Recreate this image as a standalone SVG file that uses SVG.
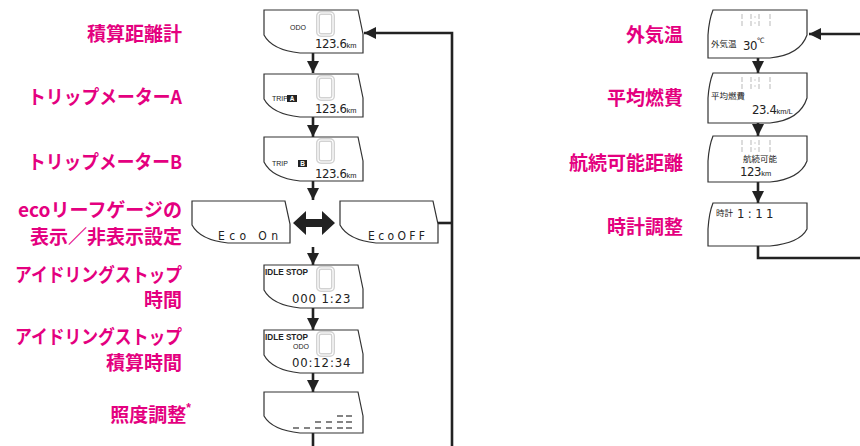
<svg xmlns="http://www.w3.org/2000/svg" width="860" height="446" viewBox="0 0 860 446">
<style>
.lbl{font-family:"Noto Sans CJK JP","Noto Sans",sans-serif;font-weight:bold;font-size:19px;fill:#e4007f;text-anchor:end}
.box{fill:#fff;stroke:#333;stroke-width:1.2}
.ghost{fill:none;stroke:#d2d2d2;stroke-width:4}
.ghost2{fill:none;stroke:#fff;stroke-width:1.2}
.gseg{stroke:#c9c9c9;stroke-width:1.3}
.dig{font-family:"DejaVu Sans Condensed","DejaVu Sans",sans-serif;font-weight:200;font-size:13px;letter-spacing:-0.4px;fill:#222}
.u{font-family:"Liberation Sans",Arial,sans-serif;font-size:7.5px;letter-spacing:0}
.sm{font-family:"Liberation Sans",Arial,sans-serif;font-size:7px;fill:#222}
.jp{font-family:"Noto Sans CJK JP",sans-serif;font-size:8.5px;fill:#222}
.bold{font-family:"Liberation Sans",Arial,sans-serif;font-weight:bold;font-size:9px;fill:#222}
.seg{font-family:"DejaVu Sans Condensed","DejaVu Sans",sans-serif;font-weight:200;font-size:12px;fill:#222}
.ln{fill:none;stroke:#222;stroke-width:2.6}
.bar{stroke:#333;stroke-width:1.2}
</style>
<defs>
<marker id="ah" markerUnits="userSpaceOnUse" markerWidth="13" markerHeight="12" refX="12" refY="6" orient="auto">
<path d="M0,0 L12,6 L0,12 Z" fill="#222"/>
</marker>
<g id="g0"><rect x="0" y="0" width="15" height="22" rx="3" class="ghost"/><rect x="0" y="0" width="15" height="22" rx="3" class="ghost2"/><line x1="2" y1="11" x2="13" y2="11" stroke="#fff" stroke-width="1.2"/></g>
<g id="g1"><line x1="0" y1="0" x2="0" y2="5" class="gseg"/><line x1="0" y1="7" x2="0" y2="12" class="gseg"/><line x1="9" y1="0" x2="9" y2="5" class="gseg"/><line x1="9" y1="7" x2="9" y2="12" class="gseg"/><circle cx="13" cy="3" r="0.8" fill="#c9c9c9"/><circle cx="13" cy="9" r="0.8" fill="#c9c9c9"/><line x1="17" y1="0" x2="17" y2="5" class="gseg"/><line x1="17" y1="7" x2="17" y2="12" class="gseg"/><line x1="28" y1="0" x2="28" y2="5" class="gseg"/><line x1="28" y1="7" x2="28" y2="12" class="gseg"/></g>
</defs>

<!-- labels -->
<g id="labels">
<text class="lbl" x="182" y="41">積算距離計</text>
<text class="lbl" x="182" y="104" textLength="154" lengthAdjust="spacingAndGlyphs">トリップメーターA</text>
<text class="lbl" x="182" y="169" textLength="154" lengthAdjust="spacingAndGlyphs">トリップメーターB</text>
<text class="lbl" x="182" y="217" textLength="164" lengthAdjust="spacingAndGlyphs">ecoリーフゲージの</text>
<text class="lbl" x="182" y="244">表示／非表示設定</text>
<text class="lbl" x="182" y="282" textLength="167" lengthAdjust="spacingAndGlyphs">アイドリングストップ</text>
<text class="lbl" x="182" y="307">時間</text>
<text class="lbl" x="182" y="344" textLength="167" lengthAdjust="spacingAndGlyphs">アイドリングストップ</text>
<text class="lbl" x="182" y="370">積算時間</text>
<text class="lbl" x="191" y="422">照度調整<tspan dy="-10" style="font-family:'Liberation Sans',sans-serif;font-size:12px">*</tspan></text>
<text class="lbl" x="683" y="42">外気温</text>
<text class="lbl" x="683" y="105">平均燃費</text>
<text class="lbl" x="683" y="170">航続可能距離</text>
<text class="lbl" x="683" y="234">時計調整</text>
</g>

<!-- connectors -->
<g id="connectors">
<line class="ln" x1="313" y1="53" x2="313" y2="73" marker-end="url(#ah)"/>
<line class="ln" x1="313" y1="117" x2="313" y2="137" marker-end="url(#ah)"/>
<line class="ln" x1="313" y1="181" x2="313" y2="200" marker-end="url(#ah)"/>
<line class="ln" x1="313" y1="247" x2="313" y2="265" marker-end="url(#ah)"/>
<line class="ln" x1="313" y1="308" x2="313" y2="330" marker-end="url(#ah)"/>
<line class="ln" x1="313" y1="373" x2="313" y2="392" marker-end="url(#ah)"/>
<line class="ln" x1="313" y1="433" x2="313" y2="446"/>
<path class="ln" d="M452,446 L452,33 L364,33" stroke-width="3" marker-end="url(#ah)"/>
<line class="ln" x1="438" y1="223" x2="452" y2="223" stroke-width="2.2"/>
<polygon points="293,223 306,211 306,219 322,219 322,211 335,223 322,235 322,227 306,227 306,235" fill="#222"/>
<line class="ln" x1="758" y1="58" x2="758" y2="73" marker-end="url(#ah)"/>
<line class="ln" x1="758" y1="123" x2="758" y2="136" marker-end="url(#ah)"/>
<line class="ln" x1="758" y1="182" x2="758" y2="203" marker-end="url(#ah)"/>
<path class="ln" d="M758,246 L758,258 L860,258"/>
<line class="ln" x1="860" y1="34" x2="809" y2="34" marker-end="url(#ah)"/>
</g>

<!-- left column -->
<g id="odo">
<path class="box" d="M264,10 L358,10 L363,34 L363,53 L300,53 Q272,50 264,35 Z"/>
<use href="#g0" x="318" y="13"/>
<text class="sm" x="290" y="30">ODO</text>
<text class="dig" x="315" y="48">123.6<tspan class="u">km</tspan></text>
</g>
<g id="tripA">
<path class="box" d="M264,74 L358,74 L363,98 L363,117 L300,117 Q272,114 264,99 Z"/>
<use href="#g0" x="318" y="77"/>
<text class="sm" x="272" y="101">TRIP</text>
<rect x="287" y="95" width="10" height="7" fill="#222"/>
<text x="292" y="101" text-anchor="middle" style="font-family:'Liberation Sans',sans-serif;font-weight:bold;font-size:6.5px;fill:#fff">A</text>
<text class="dig" x="315" y="113">123.6<tspan class="u">km</tspan></text>
</g>
<g id="tripB">
<path class="box" d="M264,137 L358,137 L363,161 L363,181 L300,181 Q272,178 264,162 Z"/>
<use href="#g0" x="318" y="140"/>
<text class="sm" x="272" y="166">TRIP</text>
<rect x="298" y="160" width="9" height="7" fill="#222"/>
<text x="302.5" y="166" text-anchor="middle" style="font-family:'Liberation Sans',sans-serif;font-weight:bold;font-size:6.5px;fill:#fff">B</text>
<text class="dig" x="315" y="178">123.6<tspan class="u">km</tspan></text>
</g>
<g id="ecoOn">
<path class="box" d="M192,201 L285,201 L290,224 L290,243 L228,243 Q200,240 192,225 Z"/>
<text class="seg" x="218" y="240" textLength="60" lengthAdjust="spacing">Eco On</text>
</g>
<g id="ecoOff">
<path class="box" d="M340,201 L433,201 L438,224 L438,243 L376,243 Q348,240 340,225 Z"/>
<text class="seg" x="368" y="240" textLength="57" lengthAdjust="spacing">EcoOFF</text>
</g>
<g id="idle1">
<path class="box" d="M264,265 L358,265 L363,289 L363,308 L300,308 Q272,305 264,290 Z"/>
<use href="#g0" x="318" y="268"/>
<text class="bold" x="265" y="275" textLength="43" lengthAdjust="spacingAndGlyphs">IDLE STOP</text>
<text class="dig" x="292" y="303" font-size="14" textLength="58" lengthAdjust="spacing">000 1:23</text>
</g>
<g id="idle2">
<path class="box" d="M264,330 L358,330 L363,354 L363,373 L300,373 Q272,370 264,355 Z"/>
<use href="#g0" x="318" y="333"/>
<text class="bold" x="265" y="340" textLength="43" lengthAdjust="spacingAndGlyphs">IDLE STOP</text>
<text class="sm" x="293" y="349" font-size="6.5">ODO</text>
<text class="dig" x="292" y="367" font-size="14" textLength="58" lengthAdjust="spacing">00:12:34</text>
</g>
<g id="illum">
<path class="box" d="M264,392 L358,392 L363,416 L363,433 L300,433 Q272,430 264,416 Z"/>
<line class="bar" x1="293" y1="428" x2="299" y2="428"/>
<line class="bar" x1="304" y1="428" x2="310" y2="428"/>
<line class="bar" x1="315" y1="428" x2="321" y2="428"/>
<line class="bar" x1="315" y1="422" x2="321" y2="422"/>
<line class="bar" x1="326" y1="428" x2="332" y2="428"/>
<line class="bar" x1="326" y1="422" x2="332" y2="422"/>
<line class="bar" x1="337" y1="428" x2="343" y2="428"/>
<line class="bar" x1="337" y1="422" x2="343" y2="422"/>
<line class="bar" x1="337" y1="416" x2="343" y2="416"/>
<line class="bar" x1="346" y1="428" x2="352" y2="428"/>
<line class="bar" x1="346" y1="422" x2="352" y2="422"/>
<line class="bar" x1="346" y1="416" x2="352" y2="416"/>
</g>

<!-- right column -->
<g id="temp">
<path class="box" d="M713,10 L807,10 L807,35 Q800,55 770,58 L708,58 L708,35 Q709,20 713,10 Z"/>
<use href="#g1" x="742" y="14"/>
<text class="jp" x="711" y="47">外気温</text>
<text class="dig" x="743" y="50" font-size="14">30<tspan class="u" font-size="6" dy="-7">℃</tspan></text>
</g>
<g id="fuel">
<path class="box" d="M713,73 L807,73 L807,98 Q800,120 770,123 L708,123 L708,98 Q709,83 713,73 Z"/>
<use href="#g1" x="742" y="77"/>
<text class="jp" x="711" y="99">平均燃費</text>
<text class="dig" x="752" y="114">23.4<tspan class="u" font-size="7">km/L</tspan></text>
</g>
<g id="range">
<path class="box" d="M713,136 L807,136 L807,161 Q800,179 770,182 L708,182 L708,161 Q709,146 713,136 Z"/>
<use href="#g1" x="742" y="140"/>
<text class="jp" x="743" y="162">航続可能</text>
<text class="dig" x="740" y="176">123<tspan class="u" font-size="7">km</tspan></text>
</g>
<g id="clock">
<path class="box" d="M713,203 L807,203 L807,229 Q800,243 770,246 L708,246 L708,229 Q709,213 713,203 Z"/>
<text class="jp" x="716" y="216">時計</text>
<text class="dig" x="737" y="218" font-size="14" textLength="36" lengthAdjust="spacing">1:11</text>
</g>
</svg>
